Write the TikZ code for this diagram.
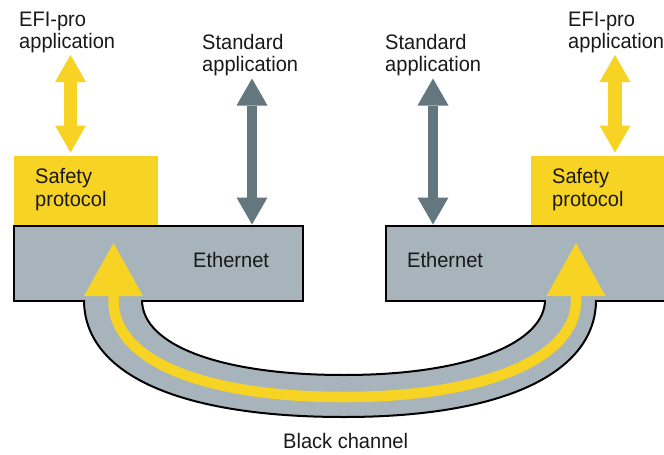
\documentclass[tikz,border=0pt]{standalone}
\usepackage{fontspec}
\setmainfont{Liberation Sans}[FakeStretch=0.955]
\usetikzlibrary{arrows.meta}
\definecolor{efiyellow}{RGB}{247,211,35}
\definecolor{ethgray}{RGB}{167,180,187}
\definecolor{arrgray}{RGB}{100,118,126}
\begin{document}
\begin{tikzpicture}[x=1pt,y=-1pt,
  lbl/.style={anchor=base west, inner sep=0pt, font=\fontsize{21}{24}\selectfont, text=black!90},
  ethbox/.style={draw=black, line width=2pt, fill=ethgray, inner sep=0pt},
  safebox/.style={fill=efiyellow, inner sep=0pt},
  yarr/.style={draw=efiyellow, line width=13.4pt,
    {Triangle[width=31pt,length=27pt,line width=0pt]}-{Triangle[width=31pt,length=27pt,line width=0pt]}},
  garr/.style={draw=arrgray, line width=10.7pt,
    {Triangle[width=31pt,length=27pt,line width=0pt]}-{Triangle[width=31pt,length=27pt,line width=0pt]}},
  chanarr/.style={draw=efiyellow, line width=10.5pt,
    {Triangle[width=59pt,length=53pt,line width=0pt]}-{Triangle[width=59pt,length=53pt,line width=0pt]}},
  tubeedge/.style={draw=black, line width=2pt}
]
\useasboundingbox (0,0) rectangle (664,455);

% boxes
\node[safebox, minimum width=144pt, minimum height=69pt] (safL) at (86,190.5) {};
\node[safebox, minimum width=134pt, minimum height=69pt] (safR) at (598,190.5) {};
\node[ethbox, minimum width=289pt, minimum height=75pt] (ethL) at (158.5,263.5) {};
\node[ethbox, minimum width=280pt, minimum height=75pt] (ethR) at (526,263.5) {};

% black channel tube
\fill[ethgray] (84,297) -- (84,301) .. controls (84,372) and (174,417) .. (344,417)
  .. controls (510,417) and (596,370) .. (596,301) -- (596,297) -- (545,297) -- (545,301)
  .. controls (545,342) and (470,375) .. (344,375)
  .. controls (220,375) and (142,345) .. (142,301) -- (142,297) -- cycle;
\draw[tubeedge] (84,300) .. controls (84,372) and (174,417) .. (344,417)
  .. controls (510,417) and (596,370) .. (596,300);
\draw[tubeedge] (545,300) .. controls (545,342) and (470,375) .. (344,375)
  .. controls (220,375) and (142,345) .. (142,300);

% safe path through black channel
\coordinate (tipL) at (113.5,243);
\coordinate (tipR) at (576,243);
\draw[chanarr] (tipL) -- (113.5,301) .. controls (113.5,358) and (197,397) .. (344,397)
  .. controls (490,397) and (576,356) .. (576,301) -- (tipR);

% application arrows
\coordinate (yaL1) at (70.5,55);
\coordinate (yaL2) at (70.5,152.5);
\coordinate (yaR1) at (615,55);
\coordinate (yaR2) at (615,152.5);
\coordinate (gaL1) at (252,78.5);
\coordinate (gaL2) at (252,224.5);
\coordinate (gaR1) at (433,78.5);
\coordinate (gaR2) at (433,224.5);
\draw[yarr] (yaL1) -- (yaL2);
\draw[yarr] (yaR1) -- (yaR2);
\draw[garr] (gaL1) -- (gaL2);
\draw[garr] (gaR1) -- (gaR2);

% texts
\node[lbl] (efiL1) at (19,27) {EFI-pro};
\node[lbl] (efiL2) at (19,48) {application};
\node[lbl] (stdL1) at (202,49.5) {Standard};
\node[lbl] (stdL2) at (202,71) {application};
\node[lbl] (stdR1) at (385,49.5) {Standard};
\node[lbl] (stdR2) at (385,71) {application};
\node[lbl] (efiR1) at (568,27) {EFI-pro};
\node[lbl] (efiR2) at (568,48) {application};
\node[lbl] (safL1) at (35,183.5) {Safety};
\node[lbl] (safL2) at (35,206.5) {protocol};
\node[lbl] (safR1) at (552,183.5) {Safety};
\node[lbl] (safR2) at (552,206.5) {protocol};
\node[lbl] (ethLt) at (193,267.5) {Ethernet};
\node[lbl] (ethRt) at (407,267.5) {Ethernet};
\node[lbl] (blackt) at (283,448) {Black channel};
\end{tikzpicture}
\end{document}
